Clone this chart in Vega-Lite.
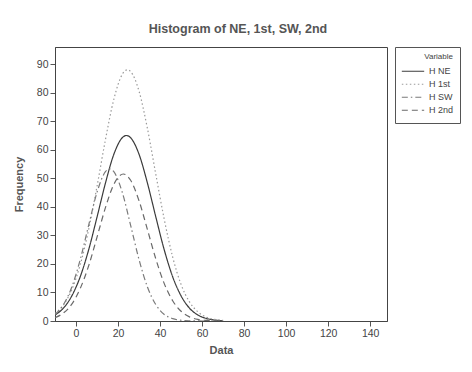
{
  "$schema": "https://vega.github.io/schema/vega-lite/v6.json",
  "width": 332,
  "height": 274,
  "autosize": {"type": "none"},
  "padding": {"left": 55, "top": 47, "right": 85, "bottom": 51},
  "background": "white",
  "title": {"text": "Histogram of NE, 1st, SW, 2nd", "font": "Liberation Sans", "fontSize": 12.5, "fontWeight": "bold", "color": "#555", "anchor": "middle", "dx": 17, "offset": 11},
  "data": {"values": [
    {"series": "H NE", "x": -10, "freq": 2.1}, {"series": "H NE", "x": -6, "freq": 4.5}, {"series": "H NE", "x": -2, "freq": 8.8}, {"series": "H NE", "x": 2, "freq": 15.5}, {"series": "H NE", "x": 6, "freq": 24.9}, {"series": "H NE", "x": 10, "freq": 36.4}, {"series": "H NE", "x": 14, "freq": 48.3}, {"series": "H NE", "x": 18, "freq": 58.4}, {"series": "H NE", "x": 22, "freq": 64.2}, {"series": "H NE", "x": 24, "freq": 65}, {"series": "H NE", "x": 26, "freq": 64.2}, {"series": "H NE", "x": 30, "freq": 58.4}, {"series": "H NE", "x": 34, "freq": 48.3}, {"series": "H NE", "x": 38, "freq": 36.4}, {"series": "H NE", "x": 42, "freq": 24.9}, {"series": "H NE", "x": 46, "freq": 15.5}, {"series": "H NE", "x": 50, "freq": 8.8}, {"series": "H NE", "x": 54, "freq": 4.5}, {"series": "H NE", "x": 58, "freq": 2.1}, {"series": "H NE", "x": 62, "freq": 0.9}, {"series": "H NE", "x": 66, "freq": 0.35}, {"series": "H NE", "x": 70, "freq": 0.12},
    {"series": "H 1st", "x": -10, "freq": 2.6}, {"series": "H 1st", "x": -6, "freq": 5.6}, {"series": "H 1st", "x": -2, "freq": 11.0}, {"series": "H 1st", "x": 2, "freq": 19.7}, {"series": "H 1st", "x": 6, "freq": 32.0}, {"series": "H 1st", "x": 10, "freq": 47.2}, {"series": "H 1st", "x": 14, "freq": 63.5}, {"series": "H 1st", "x": 18, "freq": 77.7}, {"series": "H 1st", "x": 22, "freq": 86.4}, {"series": "H 1st", "x": 24.5, "freq": 88}, {"series": "H 1st", "x": 26, "freq": 87.4}, {"series": "H 1st", "x": 30, "freq": 80.5}, {"series": "H 1st", "x": 34, "freq": 67.4}, {"series": "H 1st", "x": 38, "freq": 51.3}, {"series": "H 1st", "x": 42, "freq": 35.6}, {"series": "H 1st", "x": 46, "freq": 22.4}, {"series": "H 1st", "x": 50, "freq": 12.8}, {"series": "H 1st", "x": 54, "freq": 6.7}, {"series": "H 1st", "x": 58, "freq": 3.2}, {"series": "H 1st", "x": 62, "freq": 1.37}, {"series": "H 1st", "x": 66, "freq": 0.54}, {"series": "H 1st", "x": 70, "freq": 0.19},
    {"series": "H SW", "x": -10, "freq": 2.3}, {"series": "H SW", "x": -6, "freq": 5.7}, {"series": "H SW", "x": -2, "freq": 11.9}, {"series": "H SW", "x": 2, "freq": 21.5}, {"series": "H SW", "x": 6, "freq": 33.5}, {"series": "H SW", "x": 10, "freq": 45.1}, {"series": "H SW", "x": 14, "freq": 52.3}, {"series": "H SW", "x": 16, "freq": 53.3}, {"series": "H SW", "x": 18, "freq": 52.3}, {"series": "H SW", "x": 22, "freq": 45.1}, {"series": "H SW", "x": 26, "freq": 33.5}, {"series": "H SW", "x": 30, "freq": 21.5}, {"series": "H SW", "x": 34, "freq": 11.9}, {"series": "H SW", "x": 38, "freq": 5.7}, {"series": "H SW", "x": 42, "freq": 2.3}, {"series": "H SW", "x": 46, "freq": 0.83}, {"series": "H SW", "x": 50, "freq": 0.25}, {"series": "H SW", "x": 54, "freq": 0.07}, {"series": "H SW", "x": 58, "freq": 0.02}, {"series": "H SW", "x": 62, "freq": 0}, {"series": "H SW", "x": 66, "freq": 0}, {"series": "H SW", "x": 70, "freq": 0},
    {"series": "H 2nd", "x": -10, "freq": 1.15}, {"series": "H 2nd", "x": -6, "freq": 2.8}, {"series": "H 2nd", "x": -2, "freq": 5.9}, {"series": "H 2nd", "x": 2, "freq": 11.4}, {"series": "H 2nd", "x": 6, "freq": 19.3}, {"series": "H 2nd", "x": 10, "freq": 29.4}, {"series": "H 2nd", "x": 14, "freq": 39.7}, {"series": "H 2nd", "x": 18, "freq": 47.9}, {"series": "H 2nd", "x": 22.5, "freq": 51.5}, {"series": "H 2nd", "x": 26, "freq": 49.3}, {"series": "H 2nd", "x": 30, "freq": 42.1}, {"series": "H 2nd", "x": 34, "freq": 32.0}, {"series": "H 2nd", "x": 38, "freq": 21.7}, {"series": "H 2nd", "x": 42, "freq": 13.1}, {"series": "H 2nd", "x": 46, "freq": 7.1}, {"series": "H 2nd", "x": 50, "freq": 3.4}, {"series": "H 2nd", "x": 54, "freq": 1.45}, {"series": "H 2nd", "x": 58, "freq": 0.55}, {"series": "H 2nd", "x": 62, "freq": 0.19}, {"series": "H 2nd", "x": 66, "freq": 0.06}, {"series": "H 2nd", "x": 70, "freq": 0.02}
  ]},
  "mark": {"type": "line", "interpolate": "monotone", "strokeWidth": 1.2, "clip": true},
  "encoding": {
    "x": {"field": "x", "type": "quantitative", "scale": {"domain": [-10, 148], "nice": false, "zero": false}, "axis": {"title": "Data", "values": [0, 20, 40, 60, 80, 100, 120, 140], "titlePadding": 6}},
    "y": {"field": "freq", "type": "quantitative", "scale": {"domain": [0, 96], "nice": false}, "axis": {"title": "Frequency", "values": [0, 10, 20, 30, 40, 50, 60, 70, 80, 90], "titlePadding": 12}},
    "color": {"field": "series", "type": "nominal", "title": "Variable", "scale": {"domain": ["H NE", "H 1st", "H SW", "H 2nd"], "range": ["#3a3a3a", "#9a9a9a", "#7a7a7a", "#6a6a6a"]}},
    "strokeDash": {"field": "series", "type": "nominal", "title": "Variable", "scale": {"domain": ["H NE", "H 1st", "H SW", "H 2nd"], "range": [[1, 0], [1.5, 2.5], [6, 3, 1.5, 3], [6, 4]]}}
  },
  "config": {
    "view": {"stroke": "#444", "strokeWidth": 1},
    "axis": {"grid": false, "labelFont": "Liberation Sans", "labelFontSize": 10.5, "labelColor": "#444", "titleFont": "Liberation Sans", "titleFontSize": 11, "titleFontWeight": "bold", "titleColor": "#555", "tickColor": "#555", "domainColor": "#444", "tickSize": 5, "labelPadding": 2},
    "legend": {"orient": "none", "legendX": 340, "legendY": 0, "strokeColor": "#555", "padding": 6, "titleFont": "Liberation Sans", "titleFontSize": 8, "titleFontWeight": "normal", "titleColor": "#444", "titleAnchor": "end", "titlePadding": 4, "labelFont": "Liberation Sans", "labelFontSize": 9, "labelColor": "#444", "symbolType": "stroke", "symbolSize": 500, "symbolStrokeWidth": 1.2, "clipHeight": 12.5, "rowPadding": 0}
  }
}
